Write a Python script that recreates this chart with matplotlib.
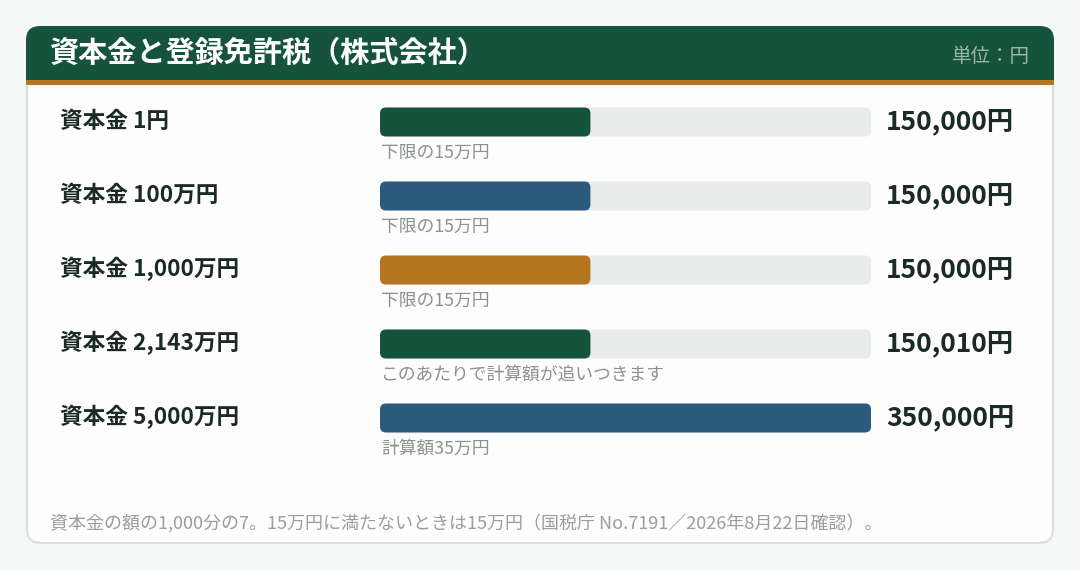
import matplotlib
matplotlib.use("Agg")
import matplotlib.pyplot as plt
from matplotlib.patches import FancyBboxPatch, Rectangle

plt.rcParams['font.family'] = ['Noto Sans CJK JP', 'DejaVu Sans']

# data
title = "資本金と登録免許税（株式会社）"
unit_label = "単位：円"
row_labels = ["資本金 1円", "資本金 100万円", "資本金 1,000万円", "資本金 2,143万円", "資本金 5,000万円"]
tax_values = [150000, 150000, 150000, 150010, 350000]
notes = ["下限の15万円", "下限の15万円", "下限の15万円", "このあたりで計算額が追いつきます", "計算額35万円"]
bar_colors = ["#15533d", "#2c5a7a", "#b5761f", "#15533d", "#2c5a7a"]
footer = "資本金の額の1,000分の7。15万円に満たないときは15万円（国税庁 No.7191／2026年8月22日確認）。"
x_max = 350000

W, H = 1080, 570
fig = plt.figure(figsize=(W / 100, H / 100), dpi=100)
fig.patch.set_facecolor("#f4f7f6")

# overlay axes in pixel units for the card and texts
bg = fig.add_axes([0, 0, 1, 1])
bg.set_xlim(0, W)
bg.set_ylim(H, 0)
bg.axis("off")

# card
card = FancyBboxPatch((27, 27), 1026, 516, boxstyle="round,pad=0,rounding_size=14",
                      facecolor="#fcfdfc", edgecolor="#d9e0de", linewidth=1.5)
bg.add_patch(card)
head = FancyBboxPatch((26, 26), 1028, 58, boxstyle="round,pad=0,rounding_size=14",
                      facecolor="#15533d", edgecolor="none")
bg.add_patch(head)
bg.add_patch(Rectangle((26, 60), 1028, 20, facecolor="#15533d", edgecolor="none"))
bg.add_patch(Rectangle((26, 80), 1028, 5, facecolor="#b5761f", edgecolor="none"))

bg.text(50, 53, title, color="white", fontsize=21, fontweight="bold", va="center", ha="left")
bg.text(1030, 57, unit_label, color="#9bb5aa", fontsize=14, va="center", ha="right")

row_y0, row_step, bar_h = 122, 74, 29
for i, (lab, val, note) in enumerate(zip(row_labels, tax_values, notes)):
    yc = row_y0 + i * row_step
    bg.text(60, yc - 1, lab, color="#1c2a25", fontsize=16.3, fontweight="bold", va="center", ha="left")
    bg.text(886, yc, f"{val:,}円", color="#1c2a25", fontsize=19, fontweight="bold", va="center", ha="left")
    bg.text(381, yc + 31, note, color="#8c9290", fontsize=12.8, va="center", ha="left")

bg.text(50, 523, footer, color="#9a9f9d", fontsize=13, va="center", ha="left")

# bar axes: x in yen, y in pixels
bx0, bx1, by0, by1 = 380, 871, 100, 440
ax = fig.add_axes([bx0 / W, 1 - by1 / H, (bx1 - bx0) / W, (by1 - by0) / H])
ax.set_xlim(0, x_max)
ax.set_ylim(by1, by0)
ax.axis("off")
ax.patch.set_alpha(0)
units_per_px = x_max / (bx1 - bx0)
aspect = 1 / units_per_px
r = 6 * units_per_px
for i, (val, col) in enumerate(zip(tax_values, bar_colors)):
    yc = row_y0 + i * row_step
    ax.add_patch(FancyBboxPatch((0, yc - bar_h / 2), x_max, bar_h,
                                boxstyle=f"round,pad=0,rounding_size={r}", mutation_aspect=aspect,
                                facecolor="#e8eceb", edgecolor="none"))
    ax.add_patch(FancyBboxPatch((0, yc - bar_h / 2), val, bar_h,
                                boxstyle=f"round,pad=0,rounding_size={r}", mutation_aspect=aspect,
                                facecolor=col, edgecolor="none"))

fig.savefig("out.png", dpi=100, facecolor=fig.get_facecolor())
